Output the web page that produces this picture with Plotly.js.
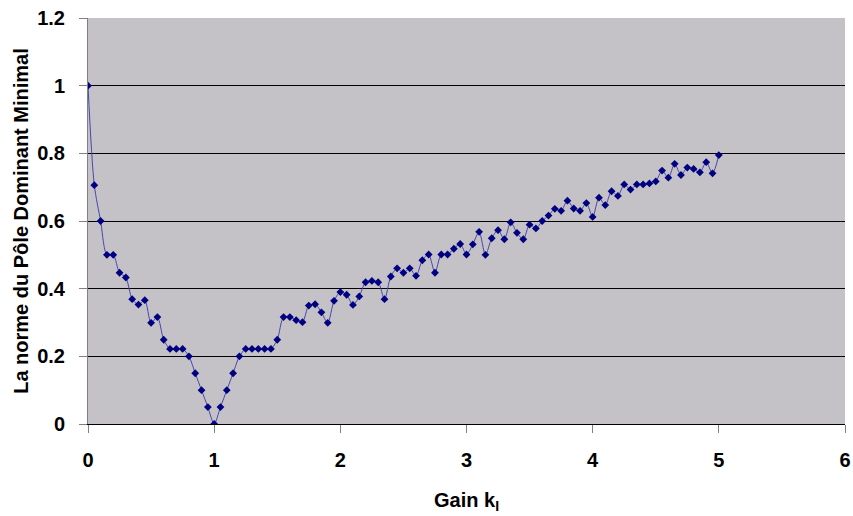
<!DOCTYPE html>
<html>
<head>
<meta charset="utf-8">
<script src="https://cdn.plot.ly/plotly-3.0.1.min.js"></script>
<style>html,body{margin:0;padding:0;background:#fff;}#chart{width:853px;height:516px;}</style>
</head>
<body>
<div id="chart"></div>
<script>
var gain = [0,0.05,0.1,0.15,0.2,0.25,0.3,0.35,0.4,0.45,0.5,0.55,0.6,0.65,0.7,0.75,0.8,0.85,0.9,0.95,
1,1.05,1.1,1.15,1.2,1.25,1.3,1.35,1.4,1.45,1.5,1.55,1.6,1.65,1.7,1.75,1.8,1.85,1.9,1.95,
2,2.05,2.1,2.15,2.2,2.25,2.3,2.35,2.4,2.45,2.5,2.55,2.6,2.65,2.7,2.75,2.8,2.85,2.9,2.95,
3,3.05,3.1,3.15,3.2,3.25,3.3,3.35,3.4,3.45,3.5,3.55,3.6,3.65,3.7,3.75,3.8,3.85,3.9,3.95,
4,4.05,4.1,4.15,4.2,4.25,4.3,4.35,4.4,4.45,4.5,4.55,4.6,4.65,4.7,4.75,4.8,4.85,4.9,4.95,5];
var norme = [1,0.706,0.6,0.5,0.5,0.447,0.433,0.369,0.353,0.366,0.299,0.316,0.249,0.222,0.222,0.222,0.2,0.15,0.1,0.05,
0,0.05,0.1,0.15,0.2,0.222,0.222,0.222,0.222,0.222,0.249,0.316,0.316,0.307,0.301,0.35,0.354,0.33,0.299,0.364,
0.39,0.382,0.352,0.377,0.419,0.423,0.419,0.369,0.436,0.46,0.447,0.46,0.438,0.484,0.501,0.447,0.501,0.501,0.518,0.532,
0.501,0.531,0.568,0.5,0.549,0.573,0.546,0.596,0.565,0.546,0.589,0.578,0.6,0.616,0.636,0.63,0.66,0.637,0.63,0.653,
0.612,0.669,0.647,0.688,0.674,0.708,0.693,0.708,0.708,0.711,0.717,0.749,0.728,0.769,0.736,0.758,0.754,0.744,0.774,0.741,0.795];
var xTitle = "Gain k<sub>I</sub>";
var yTitle = "La norme du Pôle Dominant Minimal";

var trace = {
  x: gain, y: norme, type: "scatter", mode: "lines+markers",
  line: {shape: "spline", smoothing: 0.8, color: "#4646b0", width: 1},
  marker: {symbol: "diamond", size: 6, color: "#000080"},
  hoverinfo: "x+y"
};
var FAM = "Liberation Sans, Arial, sans-serif";
var layout = {
  width: 853, height: 516,
  margin: {l: 88, r: 8, t: 18, b: 92},
  paper_bgcolor: "#ffffff",
  plot_bgcolor: "#c4c2c6",
  showlegend: false,
  font: {family: FAM, size: 20, color: "#000"},
  xaxis: {
    range: [0, 6], dtick: 1, tick0: 0,
    showgrid: false, zeroline: false,
    showline: true, linecolor: "#000", linewidth: 1,
    ticks: "outside", ticklen: 8, tickcolor: "#808080",
    ticklabelstandoff: 10,
    automargin: false,
    tickfont: {family: FAM, size: 20, color: "#000", weight: "bold"},
    title: {text: xTitle, standoff: 22, font: {family: FAM, size: 20, color: "#000", weight: "bold"}}
  },
  yaxis: {
    range: [0, 1.2], dtick: 0.2, tick0: 0,
    showgrid: true, gridcolor: "#000", gridwidth: 1,
    zeroline: false,
    showline: true, linecolor: "#808080", linewidth: 1,
    ticks: "outside", ticklen: 8, tickcolor: "#808080",
    ticklabelstandoff: 10,
    automargin: false,
    tickfont: {family: FAM, size: 20, color: "#000", weight: "bold"},
    title: {text: yTitle, standoff: 3, font: {family: FAM, size: 20, color: "#000", weight: "bold"}}
  }
};
Plotly.newPlot("chart", [trace], layout, {displayModeBar: false, staticPlot: true});
</script>
</body>
</html>
